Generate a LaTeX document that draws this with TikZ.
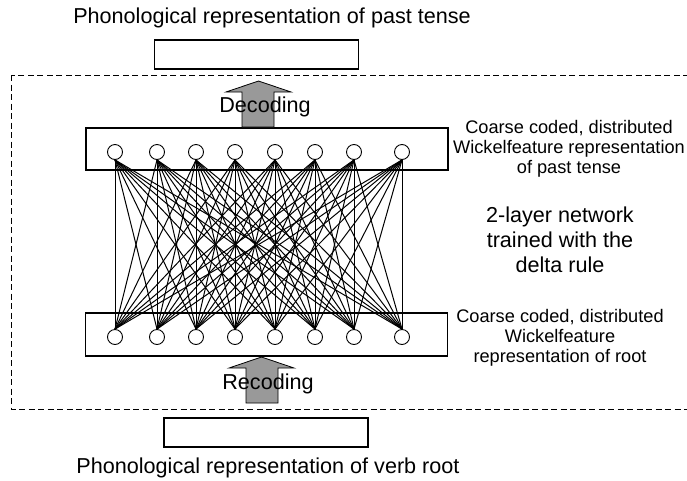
\documentclass[tikz,border=0pt]{standalone}
\usepackage{fontspec}
\setmainfont{Liberation Sans}
\usepackage{tikz}

\tikzset{
  unit/.style={circle,draw,fill=white,inner sep=0pt,minimum size=15pt,line width=0.9pt},
  wire/.style={line width=1pt},
  layerbox/.style={draw,line width=1.1pt,minimum width=362pt,minimum height=42pt,inner sep=0pt},
  phonbox/.style={draw,line width=1.1pt,minimum width=204pt,minimum height=29pt,inner sep=0pt},
  biglabel/.style={font=\fontsize{21.6}{25}\selectfont,align=center,inner sep=0pt},
  sidelabel/.style={font=\fontsize{18.2}{20}\selectfont,align=center,inner sep=0pt},
  blockarrow/.style={draw,fill=gray!80,line width=0.8pt},
  dashbox/.style={line width=0.9pt,dash pattern=on 6pt off 3.5pt}
}

\begin{document}
\begin{tikzpicture}[x=1pt,y=-1pt]
    \useasboundingbox (0,0) rectangle (687,480);
    \clip (0,0) rectangle (687,480);

    % Dashed frame round the network
    \draw[dashbox] (11,75) rectangle (700,409);

    % Boxes
    \node[phonbox] (pastbox) at (256.5,54.5) {};
    \node[layerbox] (outlayer) at (267,149) {};
    \node[layerbox,minimum height=43pt] (inlayer) at (266.5,334.5) {};
    \node[phonbox] (rootbox) at (266,432.5) {};

    % Units of both layers
    \foreach \x [count=\i] in {115,157,196,235,275,315,354,402} {
        \node[unit] (o\i) at (\x,152) {};
        \node[unit] (i\i) at (\x,337) {};
    }

    % Connections, every unit to every unit
    \foreach \i in {1,...,8}
        \foreach \j in {1,...,8}
            \draw[wire] (o\i.south) -- (i\j.north);

    % Block arrows
    \draw[blockarrow] (242,127) -- (242,92) -- (226,92) -- (258.5,81) -- (291,92) -- (274,92) -- (274,127) -- cycle;
    \draw[blockarrow] (246,403) -- (246,368) -- (229,368) -- (261.5,357) -- (294,368) -- (278,368) -- (278,403) -- cycle;

    % Labels
    \node[biglabel] (pastlabel) at (272,18) {Phonological representation of past tense};
    \node[biglabel] (rootlabel) at (268,468) {Phonological representation of verb root};
    \node[biglabel] (decoding) at (265,107) {Decoding};
    \node[biglabel] (recoding) at (268,384) {Recoding};
    \node[biglabel] (netlabel) at (560,240) {2-layer network\\trained with the\\delta rule};
    \node[sidelabel] (outlabel) at (569,149) {Coarse coded, distributed\\Wickelfeature representation\\of past tense};
    \node[sidelabel] (inlabel) at (560,338) {Coarse coded, distributed\\Wickelfeature\\representation of root};
\end{tikzpicture}
\end{document}
